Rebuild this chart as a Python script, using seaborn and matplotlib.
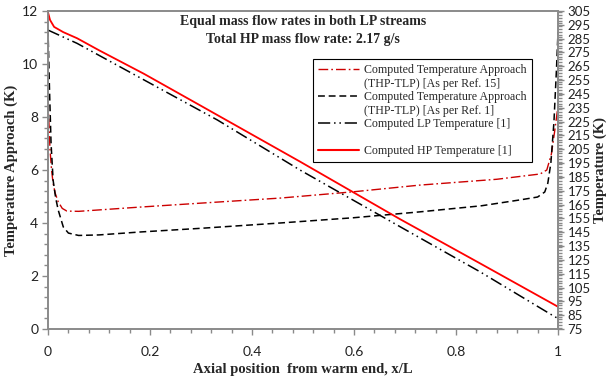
import matplotlib
matplotlib.use("Agg")
import matplotlib.pyplot as plt
from matplotlib.lines import Line2D
from matplotlib.ticker import MultipleLocator
import seaborn as sns

# Temperature approach (THP - TLP), K, per Ref. 15
x_app15 = [0, 0.004, 0.007, 0.01, 0.014, 0.02, 0.028, 0.037, 0.06, 0.18, 0.3,
           0.455, 0.6, 0.729, 0.88, 0.965, 0.978, 0.987, 0.993, 1.0]
dt_app15 = [8.6, 6.75, 6.0, 5.5, 5.13, 4.8, 4.55, 4.45, 4.44, 4.6, 4.75,
            4.94, 5.18, 5.43, 5.65, 5.85, 6.0, 6.6, 7.4, 8.4]

# Temperature approach (THP - TLP), K, per Ref. 1
x_app1 = [0, 0.003, 0.006, 0.01, 0.015, 0.02, 0.03, 0.04, 0.06, 0.1, 0.18, 0.3,
          0.455, 0.6, 0.729, 0.85, 0.925, 0.96, 0.974, 0.98, 0.986, 0.992, 0.997, 1.0]
dt_app1 = [11.3, 9.0, 7.0, 5.62, 4.95, 4.49, 3.85, 3.62, 3.53, 3.55, 3.66, 3.8,
           4.0, 4.2, 4.42, 4.65, 4.87, 4.98, 5.17, 5.5, 6.26, 7.8, 9.8, 11.2]

# LP stream temperature, K
x_lp = [0, 0.057, 0.188, 0.332, 0.494, 0.696, 0.847, 0.994, 1.0]
t_lp = [291.2, 281.6, 255.2, 226.2, 190.0, 147.8, 116.4, 83.8, 82.7]

# HP stream temperature, K
x_hp = [0, 0.004, 0.012, 0.03, 0.057, 0.1, 0.188, 0.3, 0.494, 0.69, 0.847, 1.0]
t_hp = [304.0, 298.5, 293.5, 289.7, 285.3, 276.6, 259.6, 236.4, 196.1, 154.5,
        122.5, 91.1]

labels = [
    "Computed Temperature Approach",
    "(THP-TLP) [As per Ref. 15]",
    "Computed Temperature Approach",
    "(THP-TLP) [As per Ref. 1]",
    "Computed LP Temperature [1]",
    "Computed HP Temperature [1]",
]

sns.set_theme(style="white")
serif = ["Liberation Serif", "DejaVu Serif"]
tickfont = ["Lato", "DejaVu Sans"]

fig = plt.figure(figsize=(6.11, 3.78), dpi=100)
ax = fig.add_axes([48 / 611, 1 - 329 / 378, 510 / 611, 318 / 378])
ax2 = ax.twinx()

RED = "#ff0000"
DRED = "#cc0000"

sty15 = (0, (7, 2.2, 1.2, 2.2))
sty1 = (0, (4.5, 2.5))
sty_lp = (0, (8, 2.5, 1, 2.5, 1, 2.5))

sns.lineplot(x=x_app15, y=dt_app15, ax=ax, color=DRED, lw=1.0, linestyle=sty15,
             sort=False, estimator=None)
sns.lineplot(x=x_app1, y=dt_app1, ax=ax, color="black", lw=1.1, linestyle=sty1,
             sort=False, estimator=None)
sns.lineplot(x=x_lp, y=t_lp, ax=ax2, color="black", lw=1.1, linestyle=sty_lp,
             sort=False, estimator=None)
sns.lineplot(x=x_hp, y=t_hp, ax=ax2, color=RED, lw=1.3, linestyle="-",
             sort=False, estimator=None)

ax.set_xlim(0, 1)
ax.set_ylim(0, 12)
ax2.set_ylim(75, 305)

ax.xaxis.set_minor_locator(MultipleLocator(0.04))
ax.yaxis.set_major_locator(MultipleLocator(2))
ax.yaxis.set_minor_locator(MultipleLocator(0.4))
ax2.yaxis.set_minor_locator(MultipleLocator(2))

ax.set_xticks([0, 0.2, 0.4, 0.6, 0.8, 1.0])
ax.set_xticklabels(["0", "0.2", "0.4", "0.6", "0.8", "1"])
ax2.set_yticks(range(75, 306, 10))
ax2.set_yticklabels([str(v) for v in range(75, 306, 10)])

grey = "#8a8a8a"
for a in (ax, ax2):
    for s in a.spines.values():
        s.set_color(grey)
        s.set_linewidth(1.2)
    a.tick_params(which="both", direction="out", color=grey, width=1.0,
                  labelsize=10, labelcolor="#222222")
    a.tick_params(which="major", length=4)
    a.tick_params(which="minor", length=3)
ax.tick_params(axis="x", which="both", bottom=True, pad=8)
ax.tick_params(axis="y", which="both", left=True, pad=3)
ax2.tick_params(axis="y", which="both", right=True, pad=3, labelsize=9.5)
for lab in ax.get_xticklabels() + ax.get_yticklabels() + ax2.get_yticklabels():
    lab.set_family(tickfont)

ax.set_xlabel("Axial position  from warm end, x/L", family=serif, fontweight="bold",
              fontsize=10.5, labelpad=4)
ax.set_ylabel("Temperature Approach (K)", family=serif, fontweight="bold",
              fontsize=10.5, labelpad=3)
ax2.set_ylabel("Temperature (K)", family=serif, fontweight="bold",
               fontsize=10.5, labelpad=2)

fig.text(303 / 611, 1 - 22 / 378, "Equal mass flow rates in both LP streams",
         ha="center", va="center", family=serif, fontweight="bold", fontsize=10)
fig.text(303 / 611, 1 - 40 / 378, "Total HP mass flow rate: 2.17 g/s",
         ha="center", va="center", family=serif, fontweight="bold", fontsize=10)

blank = Line2D([], [], color="none")
handles = [
    Line2D([], [], color=DRED, lw=1.0, linestyle=sty15), blank,
    Line2D([], [], color="black", lw=1.1, linestyle=sty1), blank,
    Line2D([], [], color="black", lw=1.1, linestyle=sty_lp), blank,
    Line2D([], [], color=RED, lw=1.5, linestyle="-"),
]
leg_labels = labels[:4] + [labels[4], " ", labels[5]]
leg = ax2.legend(handles, leg_labels, loc="upper left",
                 bbox_to_anchor=(313 / 611, 1 - 59 / 378),
                 bbox_transform=fig.transFigure, frameon=True, fancybox=False,
                 framealpha=1, edgecolor="black", handlelength=3.4,
                 handletextpad=0.45, labelspacing=0.12, borderpad=0.45,
                 borderaxespad=0, prop={"family": serif, "size": 8.6})
leg.get_frame().set_linewidth(0.8)

fig.savefig("out.png", dpi=100)
